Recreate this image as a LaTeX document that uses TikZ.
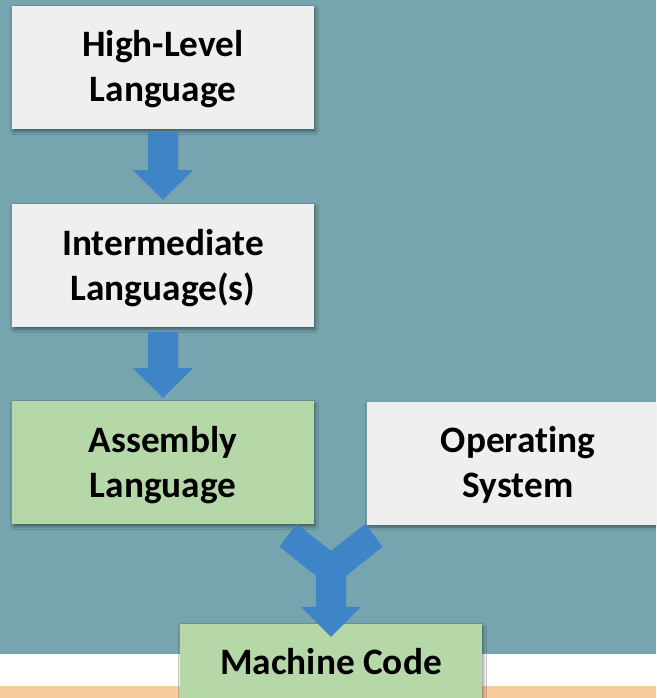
\documentclass[tikz,border=0pt]{standalone}
\usepackage{fontspec}
\setmainfont[Ligatures=NoCommon]{Carlito}
\usetikzlibrary{calc,shadows.blur}
\definecolor{bgteal}{HTML}{76A5AF}
\definecolor{boxgray}{HTML}{EFEFEF}
\definecolor{boxgreen}{HTML}{B6D7A8}
\definecolor{arrblue}{HTML}{3D85C6}
\definecolor{bandorange}{HTML}{F9CB9C}
\newcommand{\twolines}[2]{\raisebox{-3pt}[\height][\depth]{\begin{tabular}{@{}c@{}}#1\\#2\end{tabular}}}
\tikzset{
  stagebox/.style={rectangle, minimum width=302pt, minimum height=123pt, inner sep=0pt,
    align=center, font=\fontsize{37.3}{45}\selectfont\bfseries, text=black,
    blur shadow={shadow xshift=1.5pt, shadow yshift=-2.5pt, shadow blur radius=3pt, shadow opacity=45}},
  graybox/.style={stagebox, fill=boxgray},
  greenbox/.style={stagebox, fill=boxgreen},
  blockarrow/.style={fill=arrblue, draw=none}
}
\begin{document}
\begin{tikzpicture}[x=1pt,y=-1pt]
\useasboundingbox (0,0) rectangle (656,698);
\clip (0,0) rectangle (656,698);
% background bands
\fill[bgteal] (0,0) rectangle (656,654);
\fill[white] (0,654) rectangle (656,686);
\fill[bandorange] (0,686) rectangle (656,698);
% boxes
\node[graybox] (hll) at (163,67.5) {\twolines{High-Level}{Language}};
\node[graybox] (il) at (163,265.5) {\twolines{Intermediate}{Language(s)}};
\node[greenbox] (asm) at (163,462.5) {\twolines{Assembly}{Language}};
\node[graybox] (os) at (518,463) {\twolines{Operating}{System}};
\node[greenbox] (mc) at (331,685.5) {\raisebox{23.5pt}[\height][\depth]{Machine Code}};
% arrow 1
\fill[blockarrow]
  ($(hll.south)+(-15,3)$) -- ($(hll.south)+(15,3)$) -- ($(hll.south)+(15,41)$) --
  ($(hll.south)+(30,41)$) -- ($(il.north)+(0,-4)$) -- ($(hll.south)+(-30,41)$) --
  ($(hll.south)+(-15,41)$) -- cycle;
% arrow 2
\fill[blockarrow]
  ($(il.south)+(-15,5)$) -- ($(il.south)+(15,5)$) -- ($(il.south)+(15,41)$) --
  ($(il.south)+(30,41)$) -- ($(asm.north)+(0,-3)$) -- ($(il.south)+(-30,41)$) --
  ($(il.south)+(-15,41)$) -- cycle;
% Y arrow
\coordinate (yc) at ($(mc.north)+(0,-100)$);
\fill[blockarrow]
  ($(yc)+(-34.5,0)$) -- ($(yc)+(0,27)$) -- ($(yc)+(34.5,0)$) --
  ($(yc)+(51.5,23)$) -- ($(yc)+(15,52)$) -- ($(yc)+(15,83)$) --
  ($(yc)+(30,83)$) -- ($(mc.north)+(0,13)$) -- ($(yc)+(-30,83)$) --
  ($(yc)+(-15,83)$) -- ($(yc)+(-15,52)$) -- ($(yc)+(-51.5,23)$) -- cycle;
\end{tikzpicture}
\end{document}
